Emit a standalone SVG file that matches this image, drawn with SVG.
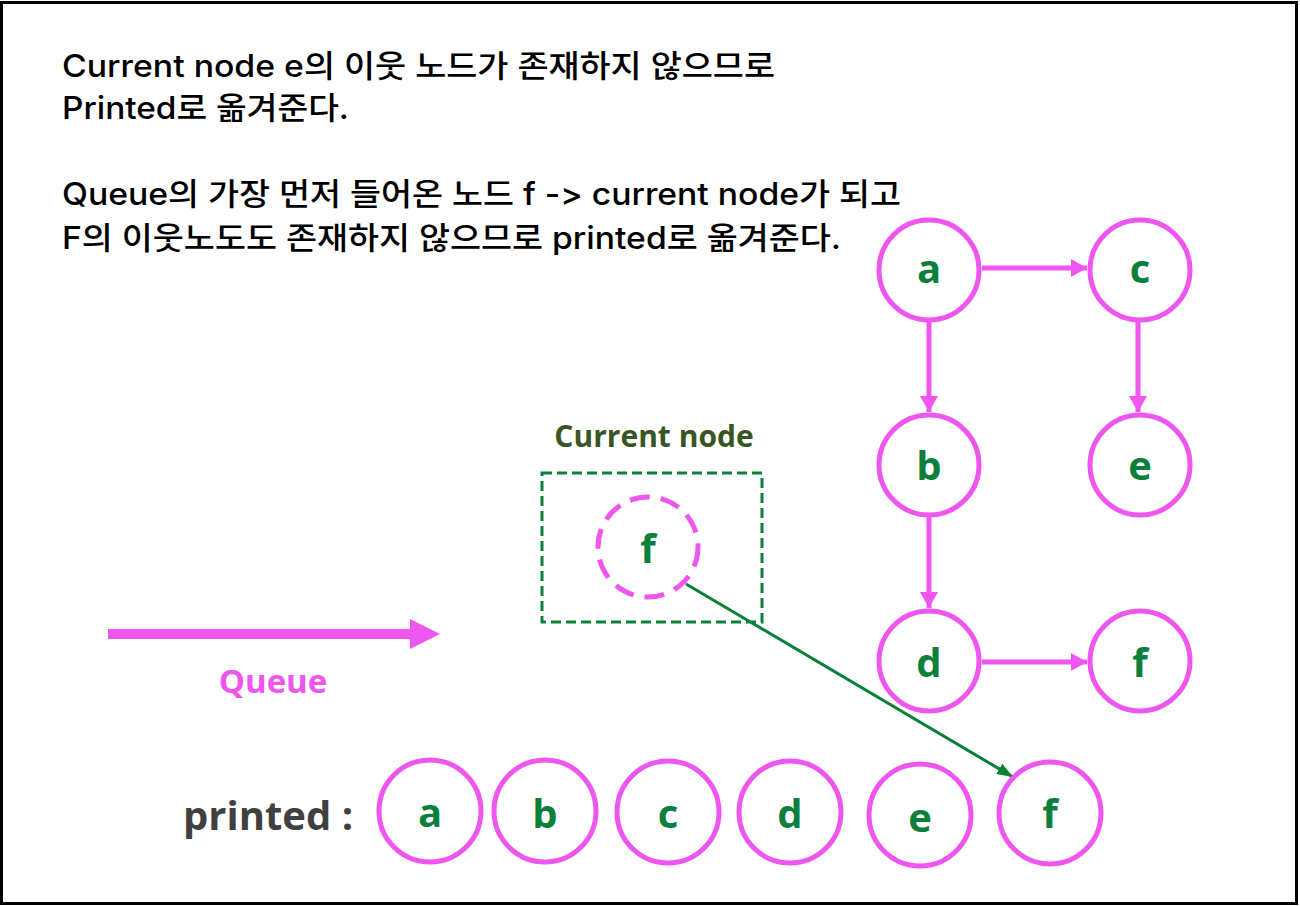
<svg xmlns="http://www.w3.org/2000/svg" width="1300" height="906" viewBox="0 0 1300 906">
<style>
.desc{font-family:Inter,"Noto Sans CJK KR",sans-serif;font-size:31px;font-weight:500;fill:#000;font-feature-settings:"calt" 0,"liga" 0;font-variant-ligatures:none}
.node{fill:none;stroke:#EF55EF;stroke-width:5}
.lbl{font-family:"Open Sans","Noto Sans",sans-serif;font-size:40px;font-weight:700;fill:#0A803B;text-anchor:middle}
.edge{stroke:#EF55EF;stroke-width:5;fill:none;marker-end:url(#pk)}
</style>
<defs>
<marker id="pk" markerUnits="userSpaceOnUse" markerWidth="16" markerHeight="18" refX="16" refY="9" orient="auto"><path d="M0,0 L16,9 L0,18 Z" fill="#EF55EF"/></marker>
<marker id="gk" markerUnits="userSpaceOnUse" markerWidth="16" markerHeight="12" refX="16" refY="6" orient="auto"><path d="M0,0 L16,6 L0,12 Z" fill="#0A803B"/></marker>
</defs>
<rect x="1.5" y="2.5" width="1295" height="901" fill="#fff" stroke="#000" stroke-width="3"/>
<g id="description">
<text class="desc" x="62" y="77" textLength="713" lengthAdjust="spacingAndGlyphs">Current node e의 이웃 노드가 존재하지 않으므로</text>
<text class="desc" x="62" y="119" textLength="287" lengthAdjust="spacingAndGlyphs">Printed로 옮겨준다.</text>
<text class="desc" x="62" y="205" textLength="839" lengthAdjust="spacingAndGlyphs">Queue의 가장 먼저 들어온 노드 f -&gt; current node가 되고</text>
<text class="desc" x="62" y="249" textLength="779" lengthAdjust="spacingAndGlyphs">F의 이웃노도도 존재하지 않으므로 printed로 옮겨준다.</text>
</g>
<g id="connectors">
<line class="edge" x1="982" y1="268" x2="1087" y2="268"/>
<line class="edge" x1="929" y1="320" x2="929" y2="412"/>
<line class="edge" x1="1138" y1="320" x2="1138" y2="412"/>
<line class="edge" x1="929" y1="517" x2="929" y2="608"/>
<line class="edge" x1="982" y1="662" x2="1087" y2="662"/>
<line x1="686" y1="584" x2="1013" y2="777" stroke="#0A803B" stroke-width="3" marker-end="url(#gk)"/>
</g>
<g id="queue">
<line x1="108" y1="634" x2="412" y2="634" stroke="#EF55EF" stroke-width="10"/>
<polygon points="410,619 440,634 410,649" fill="#EF55EF"/>
<text x="273" y="693" text-anchor="middle" font-family="'Open Sans','Noto Sans',sans-serif" font-size="33" font-weight="700" fill="#EF55EF">Queue</text>
</g>
<g id="current">
<text x="654" y="447" text-anchor="middle" font-family="'Open Sans','Noto Sans',sans-serif" font-size="30" font-weight="700" fill="#375623">Current node</text>
<rect x="542" y="473" width="220" height="149" fill="none" stroke="#0A803B" stroke-width="3" stroke-dasharray="10 5"/>
<circle cx="648" cy="547" r="50" fill="none" stroke="#EF55EF" stroke-width="5" stroke-dasharray="20 11"/>
<text class="lbl" x="648" y="563">f</text>
</g>
<g id="node-a"><circle class="node" cx="929" cy="270" r="50"/><text class="lbl" x="929" y="283">a</text></g>
<g id="node-c"><circle class="node" cx="1140" cy="270" r="50"/><text class="lbl" x="1140" y="283">c</text></g>
<g id="node-b"><circle class="node" cx="929" cy="465" r="50"/><text class="lbl" x="929" y="480">b</text></g>
<g id="node-e"><circle class="node" cx="1140" cy="465" r="50"/><text class="lbl" x="1140" y="480">e</text></g>
<g id="node-d"><circle class="node" cx="929" cy="661" r="50"/><text class="lbl" x="929" y="677">d</text></g>
<g id="node-f"><circle class="node" cx="1140" cy="661" r="50"/><text class="lbl" x="1140" y="677">f</text></g>
<g id="printed">
<text x="183" y="830" font-family="'Open Sans','Noto Sans',sans-serif" font-size="40" font-weight="700" fill="#404040">printed :</text>
</g>
<g id="p-a"><circle class="node" cx="430" cy="811" r="51"/><text class="lbl" x="430" y="827">a</text></g>
<g id="p-b"><circle class="node" cx="545" cy="811" r="51"/><text class="lbl" x="545" y="828">b</text></g>
<g id="p-c"><circle class="node" cx="668" cy="812" r="51"/><text class="lbl" x="668" y="828">c</text></g>
<g id="p-d"><circle class="node" cx="790" cy="812" r="51"/><text class="lbl" x="790" y="828">d</text></g>
<g id="p-e"><circle class="node" cx="920" cy="815" r="51"/><text class="lbl" x="920" y="832">e</text></g>
<g id="p-f"><circle class="node" cx="1050" cy="813" r="51"/><text class="lbl" x="1050" y="828">f</text></g>
</svg>
